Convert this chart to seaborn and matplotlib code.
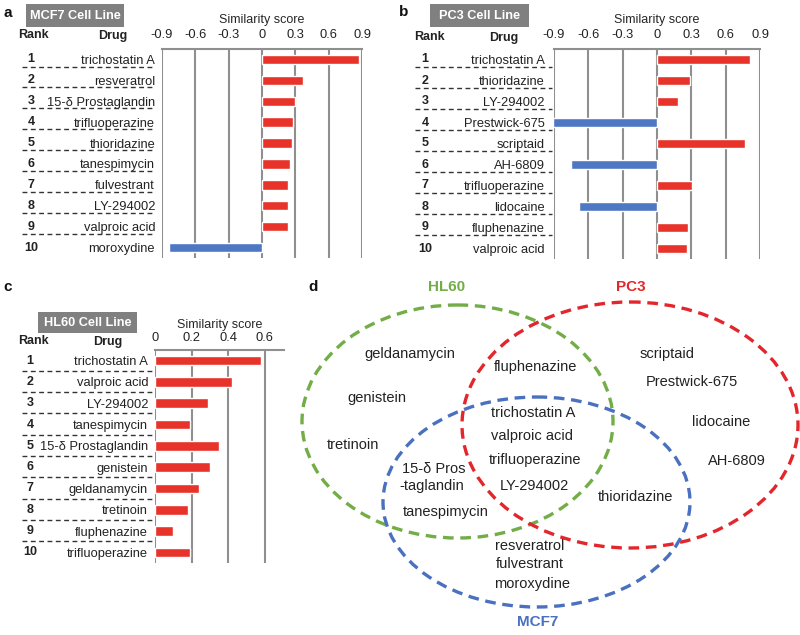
import numpy as np
import pandas as pd
import matplotlib.pyplot as plt
import seaborn as sns
from matplotlib.patches import Ellipse, Rectangle
from matplotlib.transforms import blended_transform_factory

sns.set_style('white')
plt.rcParams['font.family'] = ['Liberation Sans', 'DejaVu Sans']

# ---- data ----
mcf7_drugs = ['trichostatin A', 'resveratrol', '15-δ Prostaglandin', 'trifluoperazine',
              'thioridazine', 'tanespimycin', 'fulvestrant', 'LY-294002',
              'valproic acid', 'moroxydine']
mcf7_scores = [0.87, 0.37, 0.30, 0.28, 0.27, 0.25, 0.23, 0.23, 0.23, -0.84]

pc3_drugs = ['trichostatin A', 'thioridazine', 'LY-294002', 'Prestwick-675', 'scriptaid',
             'AH-6809', 'trifluoperazine', 'lidocaine', 'fluphenazine', 'valproic acid']
pc3_scores = [0.81, 0.29, 0.18, -0.91, 0.77, -0.75, 0.31, -0.68, 0.27, 0.26]

hl60_drugs = ['trichostatin A', 'valproic acid', 'LY-294002', 'tanespimycin',
              '15-δ Prostaglandin', 'genistein', 'geldanamycin', 'tretinoin',
              'fluphenazine', 'trifluoperazine']
hl60_scores = [0.58, 0.42, 0.29, 0.19, 0.35, 0.30, 0.24, 0.18, 0.10, 0.19]

ticks_ab = [-0.9, -0.6, -0.3, 0, 0.3, 0.6, 0.9]
ticklabels_ab = ['-0.9', '-0.6', '-0.3', '0', '0.3', '0.6', '0.9']
ticks_c = [0, 0.2, 0.4, 0.6]
ticklabels_c = ['0', '0.2', '0.4', '0.6']

# venn regions
hl60_only = ['geldanamycin', 'genistein', 'tretinoin']
pc3_only = ['scriptaid', 'Prestwick-675', 'lidocaine', 'AH-6809']
mcf7_only = ['resveratrol', 'fulvestrant', 'moroxydine']
hl60_pc3 = ['fluphenazine']
hl60_mcf7 = ['15-δ Pros', '-taglandin', 'tanespimycin']
pc3_mcf7 = ['thioridazine']
all_three = ['trichostatin A', 'valproic acid', 'trifluoperazine', 'LY-294002']

RED = '#e8332b'
BLUE = '#4f78c4'
GREEN = '#72ad47'
VRED = '#e3262b'
VBLUE = '#4a70c0'
GRID = '#8f8f8f'

W, H = 800, 635
fig = plt.figure(figsize=(W / 100, H / 100), dpi=100)


def rect(x0, y0, x1, y1):
    return [x0 / W, 1 - y1 / H, (x1 - x0) / W, (y1 - y0) / H]


def ft(x, y, s, **kw):
    kw.setdefault('ha', 'center')
    kw.setdefault('va', 'center')
    fig.text(x / W, 1 - y / H, s, **kw)


def panel(box, drugs, scores, xlim, ticks, labels, dash_x, rank_x, dash_off,
          tick_pad, label_pad, drug_pad, title, title_box):
    ax = fig.add_axes(rect(*box))
    df = pd.DataFrame({'drug': drugs, 'score': scores,
                       'sign': ['pos' if s > 0 else 'neg' for s in scores]})
    sns.barplot(data=df, x='score', y='drug', hue='sign', order=drugs,
                palette={'pos': RED, 'neg': BLUE}, dodge=False, width=0.45,
                saturation=1, orient='h', legend=False, ax=ax, zorder=3)
    ax.set_xlim(*xlim)
    ax.set_ylim(9.5, -0.5)
    ax.xaxis.tick_top()
    ax.xaxis.set_label_position('top')
    ax.set_xticks(ticks)
    ax.set_xticklabels(labels)
    ax.set_xlabel('Similarity score', fontsize=9, labelpad=label_pad)
    ax.set_ylabel('')
    ax.tick_params(axis='x', length=0, pad=tick_pad, labelsize=9.3, colors='#222222')
    ax.tick_params(axis='y', length=0, pad=drug_pad, labelsize=9.3, colors='#222222')
    ax.grid(axis='x', color=GRID, lw=1.5)
    ax.set_axisbelow(True)
    for s in ['left', 'right', 'bottom']:
        ax.spines[s].set_visible(False)
    ax.spines['top'].set_color(GRID)
    ax.spines['top'].set_linewidth(1.5)

    tr = blended_transform_factory(fig.transFigure, ax.transData)
    for i in range(len(drugs)):
        ax.text(rank_x / W, i, str(i + 1), transform=tr, ha='center', va='center',
                fontsize=9, fontweight='bold', color='#222222')
        if i < len(drugs) - 1:
            ax.plot([dash_x[0] / W, dash_x[1] / W], [i + dash_off, i + dash_off],
                    transform=tr, clip_on=False, color='#333333', lw=1,
                    ls=(0, (3.5, 2.5)))

    # title box
    bx0, by0, bx1, by1 = title_box
    fig.add_artist(Rectangle((bx0 / W, 1 - by1 / H), (bx1 - bx0) / W, (by1 - by0) / H,
                             transform=fig.transFigure, fc='#808080', ec='none'))
    ft((bx0 + bx1) / 2, (by0 + by1) / 2 + 0.5, title, color='white',
       fontweight='bold', fontsize=9.2)
    return ax


panel((162, 49, 362, 258), mcf7_drugs, mcf7_scores, (-0.9, 0.9), ticks_ab, ticklabels_ab,
      (22, 155), 31, 0.34, 5.5, 4.3, 5, 'MCF7 Cell Line', (26, 4, 124, 27))
panel((554, 49, 760, 259), pc3_drugs, pc3_scores, (-0.9, 0.9), ticks_ab, ticklabels_ab,
      (415, 552), 425, 0.36, 5.5, 4.3, 6.5, 'PC3 Cell Line', (430, 4, 529, 27))
panel((155, 350, 284, 563), hl60_drugs, hl60_scores, (0, 0.705), ticks_c, ticklabels_c,
      (22, 155), 30, 0.48, 4.5, 3, 5, 'HL60 Cell Line', (38, 312, 137, 333))

# headers
ft(33, 35, 'Rank', fontweight='bold', fontsize=9, color='#222222')
ft(113, 36, 'Drug', fontweight='bold', fontsize=9, color='#222222')
ft(429, 37, 'Rank', fontweight='bold', fontsize=9, color='#222222')
ft(504, 38, 'Drug', fontweight='bold', fontsize=9, color='#222222')
ft(33, 341, 'Rank', fontweight='bold', fontsize=9, color='#222222')
ft(108, 342, 'Drug', fontweight='bold', fontsize=9, color='#222222')

# panel letters
for x, y, s in [(8, 13, 'a'), (404, 12, 'b'), (8, 287, 'c'), (313, 287, 'd')]:
    ft(x, y, s, fontweight='bold', fontsize=11, color='#111111')

# ---- venn diagram (panel d) ----
axd = fig.add_axes(rect(290, 280, 800, 635))
axd.set_xlim(290, 800)
axd.set_ylim(635, 280)
axd.axis('off')

venn_dash = (0, (3.2, 2.0))
axd.add_patch(Ellipse((457.5, 421.5), 311, 233, fill=False, ec=GREEN, lw=2.4, ls=venn_dash))
axd.add_patch(Ellipse((630, 425), 336, 246, fill=False, ec=VRED, lw=2.4, ls=venn_dash))
axd.add_patch(Ellipse((536.5, 502), 307, 210, fill=False, ec=VBLUE, lw=2.4, ls=venn_dash))

axd.text(447, 287, 'HL60', color=GREEN, fontweight='bold', fontsize=11, ha='center', va='center')
axd.text(631, 287, 'PC3', color=VRED, fontweight='bold', fontsize=11, ha='center', va='center')
axd.text(538, 622, 'MCF7', color=VBLUE, fontweight='bold', fontsize=11, ha='center', va='center')

region_pos = [
    (hl60_only, [(410, 354), (377, 398), (353, 445)]),
    (pc3_only, [(667, 354), (692, 382), (721, 422), (737, 461)]),
    (mcf7_only, [(530, 546), (530, 564), (532, 584)]),
    (hl60_pc3, [(536, 367)]),
    (hl60_mcf7, [(434, 469), (432, 486), (446, 512)]),
    (pc3_mcf7, [(635, 497)]),
    (all_three, [(533, 413), (532, 436), (535, 460), (534, 486)]),
]
for names, pos in region_pos:
    for name, (x, y) in zip(names, pos):
        axd.text(x, y, name, fontsize=10.5, color='#222222', ha='center', va='center')

fig.savefig('out.png', dpi=100)
